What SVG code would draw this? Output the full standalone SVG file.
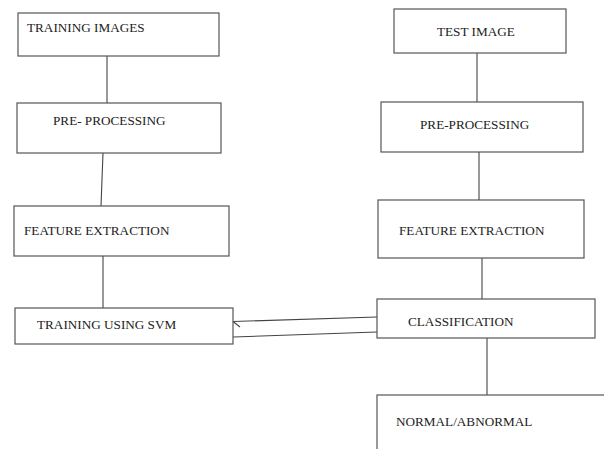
<svg xmlns="http://www.w3.org/2000/svg" width="604" height="449" viewBox="0 0 604 449">
<style>
.box{fill:#fff;stroke:#555;stroke-width:1.2}
.t{font-family:"Liberation Serif","Times New Roman",serif;font-size:13.2px;fill:#222}
.c{stroke:#444;stroke-width:1.1;fill:none}
</style>
<rect width="604" height="449" fill="#fff"/>
<g id="connectors">
<line class="c" x1="107" y1="56" x2="107" y2="103"/>
<line class="c" x1="103" y1="153" x2="101" y2="206"/>
<line class="c" x1="103" y1="256" x2="103" y2="316"/>
<line class="c" x1="477" y1="53" x2="477" y2="102"/>
<line class="c" x1="479" y1="152" x2="479" y2="200"/>
<line class="c" x1="482" y1="258" x2="482" y2="299"/>
<line class="c" x1="487" y1="338" x2="487" y2="396"/>
<line class="c" x1="377" y1="317" x2="233" y2="321.5"/>
<line class="c" x1="377" y1="332" x2="233" y2="337"/>
<line class="c" x1="233" y1="321.5" x2="240" y2="327"/>
</g>
<g id="training-images"><rect class="box" x="18" y="13" width="201" height="43"/><text class="t" x="27" y="32">TRAINING IMAGES</text></g>
<g id="pre-processing-left"><rect class="box" x="17" y="103" width="204" height="50"/><text class="t" x="53" y="125">PRE- PROCESSING</text></g>
<g id="feature-extraction-left"><rect class="box" x="14" y="206" width="215" height="50"/><text class="t" x="24" y="235">FEATURE EXTRACTION</text></g>
<g id="training-svm"><rect class="box" x="15" y="308" width="218" height="36"/><text class="t" x="37" y="329">TRAINING USING SVM</text></g>
<g id="test-image"><rect class="box" x="394" y="9" width="172" height="44"/><text class="t" x="437" y="36">TEST IMAGE</text></g>
<g id="pre-processing-right"><rect class="box" x="381" y="102" width="202" height="50"/><text class="t" x="420" y="129">PRE-PROCESSING</text></g>
<g id="feature-extraction-right"><rect class="box" x="378" y="200" width="206" height="58"/><text class="t" x="399" y="235">FEATURE EXTRACTION</text></g>
<g id="classification"><rect class="box" x="377" y="299" width="218" height="39"/><text class="t" x="408" y="326">CLASSIFICATION</text></g>
<g id="normal-abnormal"><rect class="box" x="377" y="395" width="240" height="70"/><text class="t" x="396" y="426">NORMAL/ABNORMAL</text></g>
</svg>
